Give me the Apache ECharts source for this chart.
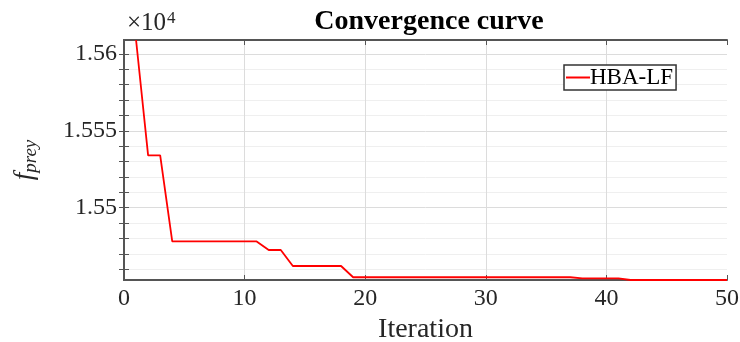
<!DOCTYPE html>
<html><head><meta charset="utf-8">
<script src="https://cdn.jsdelivr.net/npm/echarts@6/dist/echarts.min.js"></script>
<style>html,body{margin:0;padding:0;background:#fff}#c{width:740px;height:342px}</style>
</head><body><div id="c"></div>
<script>
const iterations = [];
for (let i = 1; i <= 50; i++) iterations.push(i);
const fprey = [
  15609.1, 15534.0, 15534.0, 15478.1, 15478.1, 15478.1, 15478.1, 15478.1, 15478.1, 15478.1,
  15478.1, 15472.5, 15472.5, 15462.1, 15462.1, 15462.1, 15462.1, 15462.1, 15454.8, 15454.8,
  15454.8, 15454.8, 15454.8, 15454.8, 15454.8, 15454.8, 15454.8, 15454.8, 15454.8, 15454.8,
  15454.8, 15454.8, 15454.8, 15454.8, 15454.8, 15454.8, 15454.8, 15454.0, 15454.0, 15454.0,
  15454.0, 15453.0, 15453.0, 15453.0, 15453.0, 15453.0, 15453.0, 15453.0, 15453.0, 15453.0
];
const yMajor = [15500, 15550, 15600];
const yMinor = [15460,15470,15480,15490,15500,15510,15520,15530,15540,15550,15560,15570,15580,15590,15600];
const xTicks = [0, 10, 20, 30, 40, 50];
const seriesName = 'HBA-LF';

const yMin = Math.min(...fprey), yMax = Math.max(...fprey);
const serif = 'Liberation Serif';
const axisCol = '#555555';
const txtCol = '#262626';

const gridLines = [];
yMinor.forEach(v => gridLines.push({yAxis: v, lineStyle: {color: yMajor.includes(v) ? '#dcdcdc' : '#efefef', width: 1, type: 'solid'}}));
xTicks.slice(1, -1).forEach(v => gridLines.push({xAxis: v, lineStyle: {color: '#dcdcdc', width: 1, type: 'solid'}}));

const mkTick = (extra) => Object.assign({show: true, inside: true, length: 5, lineStyle: {color: axisCol, width: 1}}, extra || {});

const chart = echarts.init(document.getElementById('c'));
chart.setOption({
  animation: false,
  backgroundColor: '#fff',
  title: {
    text: 'Convergence curve', left: 424, top: 3, textAlign: 'center',
    textStyle: {fontFamily: serif, fontWeight: 'bold', fontSize: 28, color: '#000'}
  },
  legend: {
    data: [seriesName], left: 564, top: 65, orient: 'vertical', z: 20,
    itemWidth: 24, itemHeight: 12, itemGap: 0,
    itemStyle: {opacity: 0},
    borderColor: '#333', borderWidth: 1.5, padding: [1, 3, 1, 1], backgroundColor: '#fff',
    textStyle: {fontFamily: serif, fontSize: 23, color: '#000', padding: [0, 0, 0, -5]}
  },
  grid: {left: 124, right: 13, top: 40, bottom: 62, containLabel: false, outerBoundsMode: 'none'},
  xAxis: [{
    type: 'value', min: 0, max: 50, interval: 10, z: 3,
    name: 'Iteration', nameLocation: 'middle', nameGap: 36,
    nameTextStyle: {fontFamily: serif, fontSize: 28, color: txtCol},
    axisLine: {show: true, lineStyle: {color: axisCol, width: 2}},
    axisTick: mkTick(),
    axisLabel: {fontFamily: serif, fontSize: 24, color: txtCol, margin: 7},
    splitLine: {show: false}
  }, {
    type: 'value', min: 0, max: 50, interval: 10, position: 'top', z: 3,
    axisLine: {show: true, lineStyle: {color: axisCol, width: 2}},
    axisTick: mkTick(),
    axisLabel: {show: false}, splitLine: {show: false}
  }],
  yAxis: [{
    type: 'value', min: yMin, max: yMax, z: 3,
    name: '{f|f}{s|prey}', nameLocation: 'middle', nameGap: 84, nameRotate: 90,
    nameTextStyle: {rich: {
      f: {fontFamily: serif, fontStyle: 'italic', fontSize: 27, color: txtCol},
      s: {fontFamily: serif, fontStyle: 'italic', fontSize: 19, color: txtCol, padding: [12, 0, 0, 0]}
    }},
    axisLine: {show: true, lineStyle: {color: axisCol, width: 2}},
    axisTick: mkTick({customValues: yMinor}),
    axisLabel: {customValues: yMajor, fontFamily: serif, fontSize: 24, color: txtCol, margin: 7,
      formatter: v => String(+(v / 10000).toFixed(4))},
    splitLine: {show: false}
  }, {
    type: 'value', min: yMin, max: yMax, position: 'right', z: 3,
    axisLine: {show: true, lineStyle: {color: axisCol, width: 2}},
    axisTick: mkTick({customValues: yMinor}),
    axisLabel: {show: false}, splitLine: {show: false}
  }],
  graphic: [{
    type: 'text', left: 127, top: 10,
    style: {text: '×10{p|4}', fontFamily: serif, fontSize: 25, fill: txtCol,
      rich: {p: {fontFamily: serif, fontSize: 17, fill: txtCol, verticalAlign: 'top', padding: [0, 0, 10, 1]}}}
  }],
  series: [{
    name: seriesName, type: 'line', xAxisIndex: 0, yAxisIndex: 0,
    data: iterations.map((x, i) => [x, fprey[i]]),
    showSymbol: false, symbol: 'none', clip: true,
    lineStyle: {color: '#ff0000', width: 1.8}, itemStyle: {color: '#ff0000'},
    z: 5,
    markLine: {silent: true, symbol: 'none', label: {show: false}, animation: false, z: 1, data: gridLines}
  }]
});
</script></body></html>
